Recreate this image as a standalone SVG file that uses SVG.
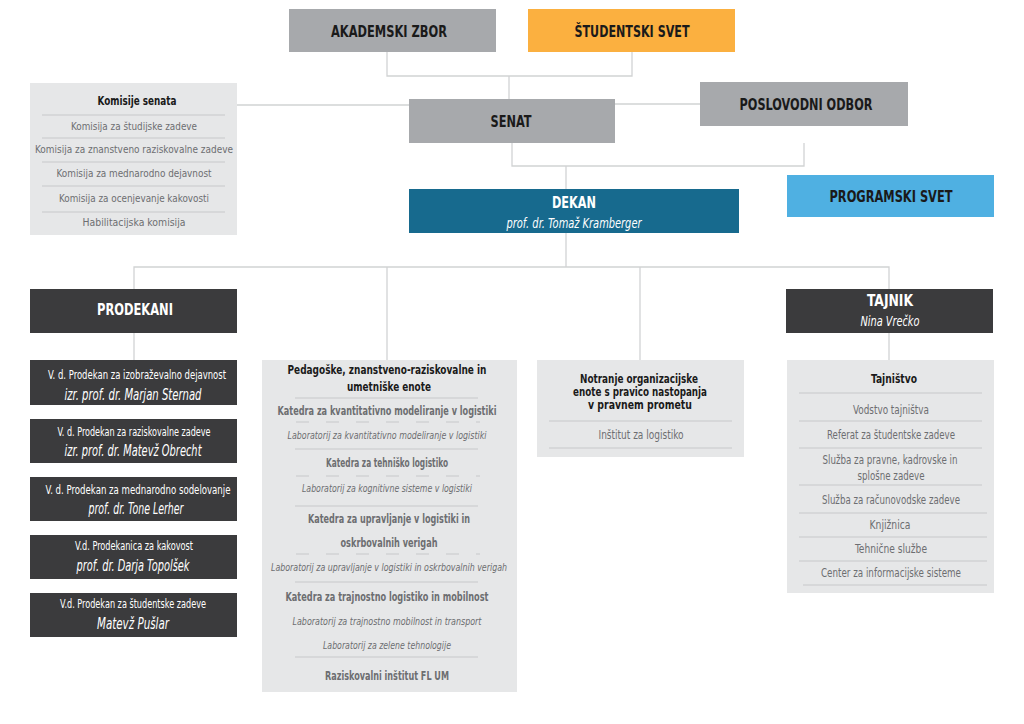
<svg xmlns="http://www.w3.org/2000/svg" width="1024" height="724" viewBox="0 0 1024 724">
<style>
text{font-family:"DejaVu Sans Condensed","Liberation Sans",sans-serif;text-anchor:middle;dominant-baseline:central}
.h{font-weight:bold;font-size:16.5px;fill:#1a1a1a}
.hw{font-weight:bold;font-size:16.5px;fill:#fff}
.iw{font-style:italic;font-size:14.5px;fill:#fff}
.pw{font-size:12px;fill:#fff}
.pi{font-style:italic;font-size:15px;fill:#fff}
.t{font-weight:bold;font-size:11.5px;fill:#1a1a1a}
.g{font-size:11.5px;fill:#6d6e71}
.k{font-size:10.8px;fill:#6d6e71}
.gb{font-weight:bold;font-size:11.5px;fill:#6d6e71}
.gi{font-style:italic;font-size:11px;fill:#6d6e71}
.c{fill:none;stroke:#d1d3d4;stroke-width:1.3}
.s{stroke:#c7c8ca;stroke-width:1}
.d{stroke:#c7c8ca;stroke-width:1;stroke-dasharray:13 17}
.gray{fill:#a7a9ac}
.dark{fill:#3b3b3d}
.light{fill:#e6e7e8}
</style>
<rect width="1024" height="724" fill="#fff"/>
<g id="connectors">
<path class="c" d="M387 52V76H632V52M509 76V99"/>
<path class="c" d="M237 105H409M615 104H700"/>
<path class="c" d="M512 143V166H804V143M566 166V189"/>
<path class="c" d="M566 233V267M134 289V267H889V289M387 267V360M640 267V360"/>
<path class="c" d="M134 333V360M889 333V360"/>
</g>
<g id="akademski-zbor">
<rect class="gray" x="289" y="9" width="207" height="43"/>
<text class="h" x="389" y="31" textLength="116" lengthAdjust="spacingAndGlyphs">AKADEMSKI ZBOR</text>
</g>
<g id="studentski-svet">
<rect fill="#fbb040" x="528" y="9" width="207" height="43"/>
<text class="h" x="632" y="31" textLength="115" lengthAdjust="spacingAndGlyphs">ŠTUDENTSKI SVET</text>
</g>
<g id="senat">
<rect class="gray" x="409" y="99" width="206" height="44"/>
<text class="h" x="511" y="121" textLength="41" lengthAdjust="spacingAndGlyphs">SENAT</text>
</g>
<g id="poslovodni-odbor">
<rect class="gray" x="700" y="82" width="208" height="44"/>
<text class="h" x="806" y="104" textLength="133" lengthAdjust="spacingAndGlyphs">POSLOVODNI ODBOR</text>
</g>
<g id="programski-svet">
<rect fill="#4fb0e2" x="787" y="175" width="207" height="42"/>
<text class="h" x="891" y="196" textLength="123" lengthAdjust="spacingAndGlyphs">PROGRAMSKI SVET</text>
</g>
<g id="dekan">
<rect fill="#176a8e" x="409" y="189" width="330" height="44"/>
<text class="hw" x="574" y="202" textLength="44" lengthAdjust="spacingAndGlyphs">DEKAN</text>
<text class="iw" x="574" y="223" textLength="135" lengthAdjust="spacingAndGlyphs">prof. dr. Tomaž Kramberger</text>
</g>
<g id="komisije-senata">
<rect class="light" x="30" y="83" width="207" height="152"/>
<text class="t" x="137" y="101" textLength="79" lengthAdjust="spacingAndGlyphs">Komisije senata</text>
<line class="s" x1="42" y1="115" x2="225" y2="115"/>
<text class="k" x="134" y="126" textLength="126" lengthAdjust="spacingAndGlyphs">Komisija za študijske zadeve</text>
<line class="s" x1="42" y1="138" x2="225" y2="138"/>
<text class="k" x="134" y="149" textLength="198" lengthAdjust="spacingAndGlyphs">Komisija za znanstveno raziskovalne zadeve</text>
<line class="s" x1="42" y1="162" x2="225" y2="162"/>
<text class="k" x="134" y="173" textLength="155" lengthAdjust="spacingAndGlyphs">Komisija za mednarodno dejavnost</text>
<line class="s" x1="42" y1="186" x2="225" y2="186"/>
<text class="k" x="134" y="198" textLength="150" lengthAdjust="spacingAndGlyphs">Komisija za ocenjevanje kakovosti</text>
<line class="s" x1="42" y1="212" x2="225" y2="212"/>
<text class="k" x="134" y="222" textLength="103" lengthAdjust="spacingAndGlyphs">Habilitacijska komisija</text>
</g>
<g id="prodekani">
<rect class="dark" x="30" y="289" width="207" height="44"/>
<text class="hw" x="135" y="309" textLength="76" lengthAdjust="spacingAndGlyphs">PRODEKANI</text>
</g>
<g id="prodekan-1">
<rect class="dark" x="30" y="360" width="207" height="45"/>
<text class="pw" x="137" y="375" textLength="178" lengthAdjust="spacingAndGlyphs">V. d. Prodekan za izobraževalno dejavnost</text>
<text class="pi" x="133" y="395" textLength="137" lengthAdjust="spacingAndGlyphs">izr. prof. dr. Marjan Sternad</text>
</g>
<g id="prodekan-2">
<rect class="dark" x="30" y="419" width="207" height="44"/>
<text class="pw" x="134" y="432" textLength="153" lengthAdjust="spacingAndGlyphs">V. d. Prodekan za raziskovalne zadeve</text>
<text class="pi" x="133" y="451" textLength="137" lengthAdjust="spacingAndGlyphs">izr. prof. dr. Matevž Obrecht</text>
</g>
<g id="prodekan-3">
<rect class="dark" x="30" y="477" width="207" height="44"/>
<text class="pw" x="138" y="490" textLength="185" lengthAdjust="spacingAndGlyphs">V. d. Prodekan za mednarodno sodelovanje</text>
<text class="pi" x="136" y="509" textLength="95" lengthAdjust="spacingAndGlyphs">prof. dr. Tone Lerher</text>
</g>
<g id="prodekan-4">
<rect class="dark" x="30" y="535" width="207" height="44"/>
<text class="pw" x="134" y="546" textLength="118" lengthAdjust="spacingAndGlyphs">V.d. Prodekanica za kakovost</text>
<text class="pi" x="133" y="566" textLength="113" lengthAdjust="spacingAndGlyphs">prof. dr. Darja Topolšek</text>
</g>
<g id="prodekan-5">
<rect class="dark" x="30" y="593" width="207" height="44"/>
<text class="pw" x="133" y="604" textLength="146" lengthAdjust="spacingAndGlyphs">V.d. Prodekan za študentske zadeve</text>
<text class="pi" x="133" y="624" textLength="72" lengthAdjust="spacingAndGlyphs">Matevž Pušlar</text>
</g>
<g id="pedagoske-enote">
<rect class="light" x="262" y="360" width="255" height="332"/>
<text class="t" x="387" y="370" textLength="199" lengthAdjust="spacingAndGlyphs">Pedagoške, znanstveno-raziskovalne in</text>
<text class="t" x="389" y="387" textLength="84" lengthAdjust="spacingAndGlyphs">umetniške enote</text>
<line class="s" x1="295" y1="398" x2="478" y2="398"/>
<text class="gb" x="387" y="411" textLength="219" lengthAdjust="spacingAndGlyphs">Katedra za kvantitativno modeliranje v logistiki</text>
<line class="d" x1="296" y1="422" x2="480" y2="422"/>
<text class="gi" x="387" y="435" textLength="199" lengthAdjust="spacingAndGlyphs">Laboratorij za kvantitativno modeliranje v logistiki</text>
<line class="s" x1="295" y1="449" x2="478" y2="449"/>
<text class="gb" x="387" y="463" textLength="122" lengthAdjust="spacingAndGlyphs">Katedra za tehniško logistiko</text>
<line class="d" x1="296" y1="476" x2="480" y2="476"/>
<text class="gi" x="387" y="488" textLength="170" lengthAdjust="spacingAndGlyphs">Laboratorij za kognitivne sisteme v logistiki</text>
<line class="s" x1="295" y1="506" x2="478" y2="506"/>
<text class="gb" x="389" y="519" textLength="162" lengthAdjust="spacingAndGlyphs">Katedra za upravljanje v logistiki in</text>
<text class="gb" x="389" y="543" textLength="97" lengthAdjust="spacingAndGlyphs">oskrbovalnih verigah</text>
<line class="d" x1="296" y1="554" x2="480" y2="554"/>
<text class="gi" x="389" y="567" textLength="236" lengthAdjust="spacingAndGlyphs">Laboratorij za upravljanje v logistiki in oskrbovalnih verigah</text>
<line class="s" x1="295" y1="582" x2="478" y2="582"/>
<text class="gb" x="387" y="597" textLength="203" lengthAdjust="spacingAndGlyphs">Katedra za trajnostno logistiko in mobilnost</text>
<text class="gi" x="387" y="621" textLength="189" lengthAdjust="spacingAndGlyphs">Laboratorij za trajnostno mobilnost in transport</text>
<text class="gi" x="387" y="645" textLength="128" lengthAdjust="spacingAndGlyphs">Laboratorij za zelene tehnologije</text>
<line class="s" x1="295" y1="657" x2="478" y2="657"/>
<text class="gb" x="387" y="676" textLength="124" lengthAdjust="spacingAndGlyphs">Raziskovalni inštitut FL UM</text>
</g>
<g id="notranje-enote">
<rect class="light" x="537" y="360" width="207" height="97"/>
<text class="t" x="639" y="379" textLength="118" lengthAdjust="spacingAndGlyphs">Notranje organizacijske</text>
<text class="t" x="640" y="392" textLength="134" lengthAdjust="spacingAndGlyphs">enote s pravico nastopanja</text>
<text class="t" x="640" y="405" textLength="104" lengthAdjust="spacingAndGlyphs">v pravnem prometu</text>
<line class="s" x1="549" y1="421" x2="732" y2="421"/>
<text class="g" x="641" y="435" textLength="85" lengthAdjust="spacingAndGlyphs">Inštitut za logistiko</text>
<line class="s" x1="549" y1="448" x2="732" y2="448"/>
</g>
<g id="tajnik">
<rect class="dark" x="786" y="289" width="207" height="44"/>
<text class="hw" x="890" y="300" textLength="46" lengthAdjust="spacingAndGlyphs">TAJNIK</text>
<text class="iw" x="890" y="321" textLength="59" lengthAdjust="spacingAndGlyphs">Nina Vrečko</text>
</g>
<g id="tajnistvo">
<rect class="light" x="787" y="360" width="207" height="233"/>
<text class="t" x="894" y="379" textLength="46" lengthAdjust="spacingAndGlyphs">Tajništvo</text>
<line class="s" x1="799" y1="393" x2="982" y2="393"/>
<text class="g" x="891" y="410" textLength="76" lengthAdjust="spacingAndGlyphs">Vodstvo tajništva</text>
<line class="s" x1="799" y1="421" x2="982" y2="421"/>
<text class="g" x="891" y="435" textLength="128" lengthAdjust="spacingAndGlyphs">Referat za študentske zadeve</text>
<line class="s" x1="799" y1="448" x2="982" y2="448"/>
<text class="g" x="890" y="460" textLength="135" lengthAdjust="spacingAndGlyphs">Služba za pravne, kadrovske in</text>
<text class="g" x="891" y="476" textLength="67" lengthAdjust="spacingAndGlyphs">splošne zadeve</text>
<line class="s" x1="799" y1="485" x2="982" y2="485"/>
<text class="g" x="891" y="500" textLength="138" lengthAdjust="spacingAndGlyphs">Služba za računovodske zadeve</text>
<line class="s" x1="799" y1="513" x2="987" y2="513"/>
<text class="g" x="890" y="525" textLength="41" lengthAdjust="spacingAndGlyphs">Knjižnica</text>
<line class="s" x1="799" y1="537" x2="987" y2="537"/>
<text class="g" x="891" y="549" textLength="72" lengthAdjust="spacingAndGlyphs">Tehnične službe</text>
<line class="s" x1="799" y1="561" x2="987" y2="561"/>
<text class="g" x="891" y="573" textLength="140" lengthAdjust="spacingAndGlyphs">Center za informacijske sisteme</text>
<line class="s" x1="803" y1="585" x2="987" y2="585"/>
</g>
</svg>
